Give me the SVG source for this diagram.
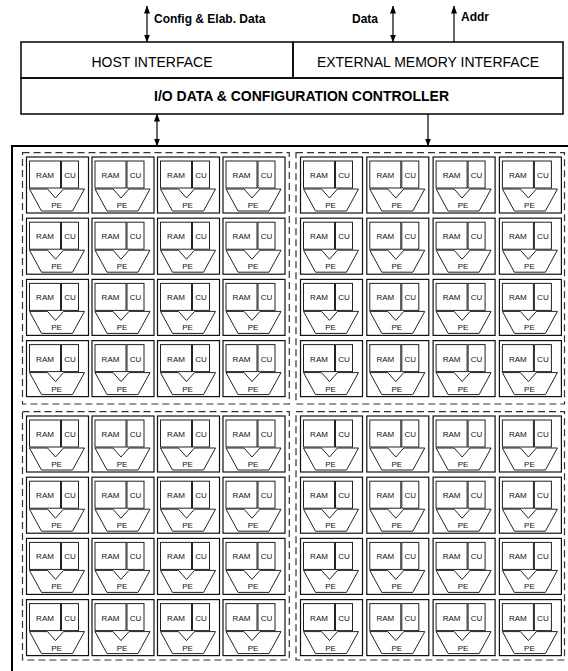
<svg xmlns="http://www.w3.org/2000/svg" width="568" height="671" viewBox="0 0 568 671">
<style>
.bg{fill:#fff}
.frame{fill:none;stroke:#000;stroke-width:1.5}
.outer{fill:none;stroke:#000;stroke-width:2}
.quad{fill:none;stroke:#333;stroke-width:1.2;stroke-dasharray:7 4}
.box{fill:#fff;stroke:#111;stroke-width:1.2}
.in{fill:#fff;stroke:#222;stroke-width:1}
.wire{fill:none;stroke:#000;stroke-width:1.2}
.cell text{font-family:"Liberation Sans",Arial,sans-serif;font-size:8px;text-anchor:middle;fill:#111}
.lbl{font-family:"Liberation Sans",Arial,sans-serif;font-size:12px;font-weight:bold;fill:#000}
.big{font-family:"Liberation Sans",Arial,sans-serif;font-size:14px;fill:#000}
.bigb{font-family:"Liberation Sans",Arial,sans-serif;font-size:14px;font-weight:bold;fill:#000}
</style>
<defs>
<marker id="ah" viewBox="0 0 8 6" refX="7.5" refY="3" markerWidth="8" markerHeight="6" markerUnits="userSpaceOnUse" orient="auto-start-reverse"><path d="M0,0L8,3L0,6Z" fill="#000"/></marker>
</defs>
<rect class="bg" x="0" y="0" width="568" height="671"/>
<g id="host-interface">
<rect class="frame" x="21" y="42" width="272" height="36" fill="#fff"/>
<text class="big" x="152" y="67" text-anchor="middle">HOST INTERFACE</text>
</g>
<g id="external-memory-interface">
<rect class="frame" x="293" y="42" width="270" height="36"/>
<text class="big" x="428" y="67" text-anchor="middle">EXTERNAL MEMORY INTERFACE</text>
</g>
<g id="io-controller">
<rect class="frame" x="21" y="78" width="542" height="36"/>
<text class="bigb" x="154" y="101">I/O DATA &amp; CONFIGURATION CONTROLLER</text>
</g>
<g id="connectors">
<line class="wire" x1="147" y1="6" x2="147" y2="42" marker-start="url(#ah)" marker-end="url(#ah)"/>
<line class="wire" x1="393" y1="6" x2="393" y2="42" marker-start="url(#ah)" marker-end="url(#ah)"/>
<line class="wire" x1="454" y1="42" x2="454" y2="6" marker-end="url(#ah)"/>
<line class="wire" x1="157" y1="114" x2="157" y2="146" marker-start="url(#ah)" marker-end="url(#ah)"/>
<line class="wire" x1="428" y1="114" x2="428" y2="146" marker-end="url(#ah)"/>
</g>
<g id="labels">
<text class="lbl" x="154" y="23">Config &amp; Elab. Data</text>
<text class="lbl" x="352" y="23">Data</text>
<text class="lbl" x="461" y="21">Addr</text>
</g>
<g id="array">
<rect class="outer" x="12" y="146" width="570" height="540"/>
<rect class="quad" x="22.5" y="152.7" width="266.8" height="251.3"/>
<rect class="quad" x="296" y="152.7" width="268.5" height="251.3"/>
<rect class="quad" x="22.5" y="411.7" width="266.8" height="248.3"/>
<rect class="quad" x="296" y="411.7" width="268.5" height="248.3"/>
</g>
<g id="pe-tl-1-1" class="cell" transform="translate(26.5,157)"><rect class="box" width="62" height="56"/><rect class="in" x="3" y="4" width="31" height="27"/><rect class="in" x="35" y="4" width="17" height="27"/><path class="in" d="M3,32H21L29,41L37,32H58L46,54H15Z"/><text x="18.5" y="21">RAM</text><text x="43.5" y="21">CU</text><text x="30" y="51">PE</text></g>
<g id="pe-tl-1-2" class="cell" transform="translate(92,157)"><rect class="box" width="62" height="56"/><rect class="in" x="3" y="4" width="31" height="27"/><rect class="in" x="35" y="4" width="17" height="27"/><path class="in" d="M3,32H21L29,41L37,32H58L46,54H15Z"/><text x="18.5" y="21">RAM</text><text x="43.5" y="21">CU</text><text x="30" y="51">PE</text></g>
<g id="pe-tl-1-3" class="cell" transform="translate(157.5,157)"><rect class="box" width="62" height="56"/><rect class="in" x="3" y="4" width="31" height="27"/><rect class="in" x="35" y="4" width="17" height="27"/><path class="in" d="M3,32H21L29,41L37,32H58L46,54H15Z"/><text x="18.5" y="21">RAM</text><text x="43.5" y="21">CU</text><text x="30" y="51">PE</text></g>
<g id="pe-tl-1-4" class="cell" transform="translate(223,157)"><rect class="box" width="62" height="56"/><rect class="in" x="3" y="4" width="31" height="27"/><rect class="in" x="35" y="4" width="17" height="27"/><path class="in" d="M3,32H21L29,41L37,32H58L46,54H15Z"/><text x="18.5" y="21">RAM</text><text x="43.5" y="21">CU</text><text x="30" y="51">PE</text></g>
<g id="pe-tl-2-1" class="cell" transform="translate(26.5,218.2)"><rect class="box" width="62" height="56"/><rect class="in" x="3" y="4" width="31" height="27"/><rect class="in" x="35" y="4" width="17" height="27"/><path class="in" d="M3,32H21L29,41L37,32H58L46,54H15Z"/><text x="18.5" y="21">RAM</text><text x="43.5" y="21">CU</text><text x="30" y="51">PE</text></g>
<g id="pe-tl-2-2" class="cell" transform="translate(92,218.2)"><rect class="box" width="62" height="56"/><rect class="in" x="3" y="4" width="31" height="27"/><rect class="in" x="35" y="4" width="17" height="27"/><path class="in" d="M3,32H21L29,41L37,32H58L46,54H15Z"/><text x="18.5" y="21">RAM</text><text x="43.5" y="21">CU</text><text x="30" y="51">PE</text></g>
<g id="pe-tl-2-3" class="cell" transform="translate(157.5,218.2)"><rect class="box" width="62" height="56"/><rect class="in" x="3" y="4" width="31" height="27"/><rect class="in" x="35" y="4" width="17" height="27"/><path class="in" d="M3,32H21L29,41L37,32H58L46,54H15Z"/><text x="18.5" y="21">RAM</text><text x="43.5" y="21">CU</text><text x="30" y="51">PE</text></g>
<g id="pe-tl-2-4" class="cell" transform="translate(223,218.2)"><rect class="box" width="62" height="56"/><rect class="in" x="3" y="4" width="31" height="27"/><rect class="in" x="35" y="4" width="17" height="27"/><path class="in" d="M3,32H21L29,41L37,32H58L46,54H15Z"/><text x="18.5" y="21">RAM</text><text x="43.5" y="21">CU</text><text x="30" y="51">PE</text></g>
<g id="pe-tl-3-1" class="cell" transform="translate(26.5,279.4)"><rect class="box" width="62" height="56"/><rect class="in" x="3" y="4" width="31" height="27"/><rect class="in" x="35" y="4" width="17" height="27"/><path class="in" d="M3,32H21L29,41L37,32H58L46,54H15Z"/><text x="18.5" y="21">RAM</text><text x="43.5" y="21">CU</text><text x="30" y="51">PE</text></g>
<g id="pe-tl-3-2" class="cell" transform="translate(92,279.4)"><rect class="box" width="62" height="56"/><rect class="in" x="3" y="4" width="31" height="27"/><rect class="in" x="35" y="4" width="17" height="27"/><path class="in" d="M3,32H21L29,41L37,32H58L46,54H15Z"/><text x="18.5" y="21">RAM</text><text x="43.5" y="21">CU</text><text x="30" y="51">PE</text></g>
<g id="pe-tl-3-3" class="cell" transform="translate(157.5,279.4)"><rect class="box" width="62" height="56"/><rect class="in" x="3" y="4" width="31" height="27"/><rect class="in" x="35" y="4" width="17" height="27"/><path class="in" d="M3,32H21L29,41L37,32H58L46,54H15Z"/><text x="18.5" y="21">RAM</text><text x="43.5" y="21">CU</text><text x="30" y="51">PE</text></g>
<g id="pe-tl-3-4" class="cell" transform="translate(223,279.4)"><rect class="box" width="62" height="56"/><rect class="in" x="3" y="4" width="31" height="27"/><rect class="in" x="35" y="4" width="17" height="27"/><path class="in" d="M3,32H21L29,41L37,32H58L46,54H15Z"/><text x="18.5" y="21">RAM</text><text x="43.5" y="21">CU</text><text x="30" y="51">PE</text></g>
<g id="pe-tl-4-1" class="cell" transform="translate(26.5,340.6)"><rect class="box" width="62" height="56"/><rect class="in" x="3" y="4" width="31" height="27"/><rect class="in" x="35" y="4" width="17" height="27"/><path class="in" d="M3,32H21L29,41L37,32H58L46,54H15Z"/><text x="18.5" y="21">RAM</text><text x="43.5" y="21">CU</text><text x="30" y="51">PE</text></g>
<g id="pe-tl-4-2" class="cell" transform="translate(92,340.6)"><rect class="box" width="62" height="56"/><rect class="in" x="3" y="4" width="31" height="27"/><rect class="in" x="35" y="4" width="17" height="27"/><path class="in" d="M3,32H21L29,41L37,32H58L46,54H15Z"/><text x="18.5" y="21">RAM</text><text x="43.5" y="21">CU</text><text x="30" y="51">PE</text></g>
<g id="pe-tl-4-3" class="cell" transform="translate(157.5,340.6)"><rect class="box" width="62" height="56"/><rect class="in" x="3" y="4" width="31" height="27"/><rect class="in" x="35" y="4" width="17" height="27"/><path class="in" d="M3,32H21L29,41L37,32H58L46,54H15Z"/><text x="18.5" y="21">RAM</text><text x="43.5" y="21">CU</text><text x="30" y="51">PE</text></g>
<g id="pe-tl-4-4" class="cell" transform="translate(223,340.6)"><rect class="box" width="62" height="56"/><rect class="in" x="3" y="4" width="31" height="27"/><rect class="in" x="35" y="4" width="17" height="27"/><path class="in" d="M3,32H21L29,41L37,32H58L46,54H15Z"/><text x="18.5" y="21">RAM</text><text x="43.5" y="21">CU</text><text x="30" y="51">PE</text></g>
<g id="pe-tr-1-1" class="cell" transform="translate(300.5,157)"><rect class="box" width="62" height="56"/><rect class="in" x="3" y="4" width="31" height="27"/><rect class="in" x="35" y="4" width="17" height="27"/><path class="in" d="M3,32H21L29,41L37,32H58L46,54H15Z"/><text x="18.5" y="21">RAM</text><text x="43.5" y="21">CU</text><text x="30" y="51">PE</text></g>
<g id="pe-tr-1-2" class="cell" transform="translate(366.8,157)"><rect class="box" width="62" height="56"/><rect class="in" x="3" y="4" width="31" height="27"/><rect class="in" x="35" y="4" width="17" height="27"/><path class="in" d="M3,32H21L29,41L37,32H58L46,54H15Z"/><text x="18.5" y="21">RAM</text><text x="43.5" y="21">CU</text><text x="30" y="51">PE</text></g>
<g id="pe-tr-1-3" class="cell" transform="translate(433.1,157)"><rect class="box" width="62" height="56"/><rect class="in" x="3" y="4" width="31" height="27"/><rect class="in" x="35" y="4" width="17" height="27"/><path class="in" d="M3,32H21L29,41L37,32H58L46,54H15Z"/><text x="18.5" y="21">RAM</text><text x="43.5" y="21">CU</text><text x="30" y="51">PE</text></g>
<g id="pe-tr-1-4" class="cell" transform="translate(499.4,157)"><rect class="box" width="62" height="56"/><rect class="in" x="3" y="4" width="31" height="27"/><rect class="in" x="35" y="4" width="17" height="27"/><path class="in" d="M3,32H21L29,41L37,32H58L46,54H15Z"/><text x="18.5" y="21">RAM</text><text x="43.5" y="21">CU</text><text x="30" y="51">PE</text></g>
<g id="pe-tr-2-1" class="cell" transform="translate(300.5,218.2)"><rect class="box" width="62" height="56"/><rect class="in" x="3" y="4" width="31" height="27"/><rect class="in" x="35" y="4" width="17" height="27"/><path class="in" d="M3,32H21L29,41L37,32H58L46,54H15Z"/><text x="18.5" y="21">RAM</text><text x="43.5" y="21">CU</text><text x="30" y="51">PE</text></g>
<g id="pe-tr-2-2" class="cell" transform="translate(366.8,218.2)"><rect class="box" width="62" height="56"/><rect class="in" x="3" y="4" width="31" height="27"/><rect class="in" x="35" y="4" width="17" height="27"/><path class="in" d="M3,32H21L29,41L37,32H58L46,54H15Z"/><text x="18.5" y="21">RAM</text><text x="43.5" y="21">CU</text><text x="30" y="51">PE</text></g>
<g id="pe-tr-2-3" class="cell" transform="translate(433.1,218.2)"><rect class="box" width="62" height="56"/><rect class="in" x="3" y="4" width="31" height="27"/><rect class="in" x="35" y="4" width="17" height="27"/><path class="in" d="M3,32H21L29,41L37,32H58L46,54H15Z"/><text x="18.5" y="21">RAM</text><text x="43.5" y="21">CU</text><text x="30" y="51">PE</text></g>
<g id="pe-tr-2-4" class="cell" transform="translate(499.4,218.2)"><rect class="box" width="62" height="56"/><rect class="in" x="3" y="4" width="31" height="27"/><rect class="in" x="35" y="4" width="17" height="27"/><path class="in" d="M3,32H21L29,41L37,32H58L46,54H15Z"/><text x="18.5" y="21">RAM</text><text x="43.5" y="21">CU</text><text x="30" y="51">PE</text></g>
<g id="pe-tr-3-1" class="cell" transform="translate(300.5,279.4)"><rect class="box" width="62" height="56"/><rect class="in" x="3" y="4" width="31" height="27"/><rect class="in" x="35" y="4" width="17" height="27"/><path class="in" d="M3,32H21L29,41L37,32H58L46,54H15Z"/><text x="18.5" y="21">RAM</text><text x="43.5" y="21">CU</text><text x="30" y="51">PE</text></g>
<g id="pe-tr-3-2" class="cell" transform="translate(366.8,279.4)"><rect class="box" width="62" height="56"/><rect class="in" x="3" y="4" width="31" height="27"/><rect class="in" x="35" y="4" width="17" height="27"/><path class="in" d="M3,32H21L29,41L37,32H58L46,54H15Z"/><text x="18.5" y="21">RAM</text><text x="43.5" y="21">CU</text><text x="30" y="51">PE</text></g>
<g id="pe-tr-3-3" class="cell" transform="translate(433.1,279.4)"><rect class="box" width="62" height="56"/><rect class="in" x="3" y="4" width="31" height="27"/><rect class="in" x="35" y="4" width="17" height="27"/><path class="in" d="M3,32H21L29,41L37,32H58L46,54H15Z"/><text x="18.5" y="21">RAM</text><text x="43.5" y="21">CU</text><text x="30" y="51">PE</text></g>
<g id="pe-tr-3-4" class="cell" transform="translate(499.4,279.4)"><rect class="box" width="62" height="56"/><rect class="in" x="3" y="4" width="31" height="27"/><rect class="in" x="35" y="4" width="17" height="27"/><path class="in" d="M3,32H21L29,41L37,32H58L46,54H15Z"/><text x="18.5" y="21">RAM</text><text x="43.5" y="21">CU</text><text x="30" y="51">PE</text></g>
<g id="pe-tr-4-1" class="cell" transform="translate(300.5,340.6)"><rect class="box" width="62" height="56"/><rect class="in" x="3" y="4" width="31" height="27"/><rect class="in" x="35" y="4" width="17" height="27"/><path class="in" d="M3,32H21L29,41L37,32H58L46,54H15Z"/><text x="18.5" y="21">RAM</text><text x="43.5" y="21">CU</text><text x="30" y="51">PE</text></g>
<g id="pe-tr-4-2" class="cell" transform="translate(366.8,340.6)"><rect class="box" width="62" height="56"/><rect class="in" x="3" y="4" width="31" height="27"/><rect class="in" x="35" y="4" width="17" height="27"/><path class="in" d="M3,32H21L29,41L37,32H58L46,54H15Z"/><text x="18.5" y="21">RAM</text><text x="43.5" y="21">CU</text><text x="30" y="51">PE</text></g>
<g id="pe-tr-4-3" class="cell" transform="translate(433.1,340.6)"><rect class="box" width="62" height="56"/><rect class="in" x="3" y="4" width="31" height="27"/><rect class="in" x="35" y="4" width="17" height="27"/><path class="in" d="M3,32H21L29,41L37,32H58L46,54H15Z"/><text x="18.5" y="21">RAM</text><text x="43.5" y="21">CU</text><text x="30" y="51">PE</text></g>
<g id="pe-tr-4-4" class="cell" transform="translate(499.4,340.6)"><rect class="box" width="62" height="56"/><rect class="in" x="3" y="4" width="31" height="27"/><rect class="in" x="35" y="4" width="17" height="27"/><path class="in" d="M3,32H21L29,41L37,32H58L46,54H15Z"/><text x="18.5" y="21">RAM</text><text x="43.5" y="21">CU</text><text x="30" y="51">PE</text></g>
<g id="pe-bl-1-1" class="cell" transform="translate(26.5,416)"><rect class="box" width="62" height="56"/><rect class="in" x="3" y="4" width="31" height="27"/><rect class="in" x="35" y="4" width="17" height="27"/><path class="in" d="M3,32H21L29,41L37,32H58L46,54H15Z"/><text x="18.5" y="21">RAM</text><text x="43.5" y="21">CU</text><text x="30" y="51">PE</text></g>
<g id="pe-bl-1-2" class="cell" transform="translate(92,416)"><rect class="box" width="62" height="56"/><rect class="in" x="3" y="4" width="31" height="27"/><rect class="in" x="35" y="4" width="17" height="27"/><path class="in" d="M3,32H21L29,41L37,32H58L46,54H15Z"/><text x="18.5" y="21">RAM</text><text x="43.5" y="21">CU</text><text x="30" y="51">PE</text></g>
<g id="pe-bl-1-3" class="cell" transform="translate(157.5,416)"><rect class="box" width="62" height="56"/><rect class="in" x="3" y="4" width="31" height="27"/><rect class="in" x="35" y="4" width="17" height="27"/><path class="in" d="M3,32H21L29,41L37,32H58L46,54H15Z"/><text x="18.5" y="21">RAM</text><text x="43.5" y="21">CU</text><text x="30" y="51">PE</text></g>
<g id="pe-bl-1-4" class="cell" transform="translate(223,416)"><rect class="box" width="62" height="56"/><rect class="in" x="3" y="4" width="31" height="27"/><rect class="in" x="35" y="4" width="17" height="27"/><path class="in" d="M3,32H21L29,41L37,32H58L46,54H15Z"/><text x="18.5" y="21">RAM</text><text x="43.5" y="21">CU</text><text x="30" y="51">PE</text></g>
<g id="pe-bl-2-1" class="cell" transform="translate(26.5,477.2)"><rect class="box" width="62" height="56"/><rect class="in" x="3" y="4" width="31" height="27"/><rect class="in" x="35" y="4" width="17" height="27"/><path class="in" d="M3,32H21L29,41L37,32H58L46,54H15Z"/><text x="18.5" y="21">RAM</text><text x="43.5" y="21">CU</text><text x="30" y="51">PE</text></g>
<g id="pe-bl-2-2" class="cell" transform="translate(92,477.2)"><rect class="box" width="62" height="56"/><rect class="in" x="3" y="4" width="31" height="27"/><rect class="in" x="35" y="4" width="17" height="27"/><path class="in" d="M3,32H21L29,41L37,32H58L46,54H15Z"/><text x="18.5" y="21">RAM</text><text x="43.5" y="21">CU</text><text x="30" y="51">PE</text></g>
<g id="pe-bl-2-3" class="cell" transform="translate(157.5,477.2)"><rect class="box" width="62" height="56"/><rect class="in" x="3" y="4" width="31" height="27"/><rect class="in" x="35" y="4" width="17" height="27"/><path class="in" d="M3,32H21L29,41L37,32H58L46,54H15Z"/><text x="18.5" y="21">RAM</text><text x="43.5" y="21">CU</text><text x="30" y="51">PE</text></g>
<g id="pe-bl-2-4" class="cell" transform="translate(223,477.2)"><rect class="box" width="62" height="56"/><rect class="in" x="3" y="4" width="31" height="27"/><rect class="in" x="35" y="4" width="17" height="27"/><path class="in" d="M3,32H21L29,41L37,32H58L46,54H15Z"/><text x="18.5" y="21">RAM</text><text x="43.5" y="21">CU</text><text x="30" y="51">PE</text></g>
<g id="pe-bl-3-1" class="cell" transform="translate(26.5,538.4)"><rect class="box" width="62" height="56"/><rect class="in" x="3" y="4" width="31" height="27"/><rect class="in" x="35" y="4" width="17" height="27"/><path class="in" d="M3,32H21L29,41L37,32H58L46,54H15Z"/><text x="18.5" y="21">RAM</text><text x="43.5" y="21">CU</text><text x="30" y="51">PE</text></g>
<g id="pe-bl-3-2" class="cell" transform="translate(92,538.4)"><rect class="box" width="62" height="56"/><rect class="in" x="3" y="4" width="31" height="27"/><rect class="in" x="35" y="4" width="17" height="27"/><path class="in" d="M3,32H21L29,41L37,32H58L46,54H15Z"/><text x="18.5" y="21">RAM</text><text x="43.5" y="21">CU</text><text x="30" y="51">PE</text></g>
<g id="pe-bl-3-3" class="cell" transform="translate(157.5,538.4)"><rect class="box" width="62" height="56"/><rect class="in" x="3" y="4" width="31" height="27"/><rect class="in" x="35" y="4" width="17" height="27"/><path class="in" d="M3,32H21L29,41L37,32H58L46,54H15Z"/><text x="18.5" y="21">RAM</text><text x="43.5" y="21">CU</text><text x="30" y="51">PE</text></g>
<g id="pe-bl-3-4" class="cell" transform="translate(223,538.4)"><rect class="box" width="62" height="56"/><rect class="in" x="3" y="4" width="31" height="27"/><rect class="in" x="35" y="4" width="17" height="27"/><path class="in" d="M3,32H21L29,41L37,32H58L46,54H15Z"/><text x="18.5" y="21">RAM</text><text x="43.5" y="21">CU</text><text x="30" y="51">PE</text></g>
<g id="pe-bl-4-1" class="cell" transform="translate(26.5,599.6)"><rect class="box" width="62" height="56"/><rect class="in" x="3" y="4" width="31" height="27"/><rect class="in" x="35" y="4" width="17" height="27"/><path class="in" d="M3,32H21L29,41L37,32H58L46,54H15Z"/><text x="18.5" y="21">RAM</text><text x="43.5" y="21">CU</text><text x="30" y="51">PE</text></g>
<g id="pe-bl-4-2" class="cell" transform="translate(92,599.6)"><rect class="box" width="62" height="56"/><rect class="in" x="3" y="4" width="31" height="27"/><rect class="in" x="35" y="4" width="17" height="27"/><path class="in" d="M3,32H21L29,41L37,32H58L46,54H15Z"/><text x="18.5" y="21">RAM</text><text x="43.5" y="21">CU</text><text x="30" y="51">PE</text></g>
<g id="pe-bl-4-3" class="cell" transform="translate(157.5,599.6)"><rect class="box" width="62" height="56"/><rect class="in" x="3" y="4" width="31" height="27"/><rect class="in" x="35" y="4" width="17" height="27"/><path class="in" d="M3,32H21L29,41L37,32H58L46,54H15Z"/><text x="18.5" y="21">RAM</text><text x="43.5" y="21">CU</text><text x="30" y="51">PE</text></g>
<g id="pe-bl-4-4" class="cell" transform="translate(223,599.6)"><rect class="box" width="62" height="56"/><rect class="in" x="3" y="4" width="31" height="27"/><rect class="in" x="35" y="4" width="17" height="27"/><path class="in" d="M3,32H21L29,41L37,32H58L46,54H15Z"/><text x="18.5" y="21">RAM</text><text x="43.5" y="21">CU</text><text x="30" y="51">PE</text></g>
<g id="pe-br-1-1" class="cell" transform="translate(300.5,416)"><rect class="box" width="62" height="56"/><rect class="in" x="3" y="4" width="31" height="27"/><rect class="in" x="35" y="4" width="17" height="27"/><path class="in" d="M3,32H21L29,41L37,32H58L46,54H15Z"/><text x="18.5" y="21">RAM</text><text x="43.5" y="21">CU</text><text x="30" y="51">PE</text></g>
<g id="pe-br-1-2" class="cell" transform="translate(366.8,416)"><rect class="box" width="62" height="56"/><rect class="in" x="3" y="4" width="31" height="27"/><rect class="in" x="35" y="4" width="17" height="27"/><path class="in" d="M3,32H21L29,41L37,32H58L46,54H15Z"/><text x="18.5" y="21">RAM</text><text x="43.5" y="21">CU</text><text x="30" y="51">PE</text></g>
<g id="pe-br-1-3" class="cell" transform="translate(433.1,416)"><rect class="box" width="62" height="56"/><rect class="in" x="3" y="4" width="31" height="27"/><rect class="in" x="35" y="4" width="17" height="27"/><path class="in" d="M3,32H21L29,41L37,32H58L46,54H15Z"/><text x="18.5" y="21">RAM</text><text x="43.5" y="21">CU</text><text x="30" y="51">PE</text></g>
<g id="pe-br-1-4" class="cell" transform="translate(499.4,416)"><rect class="box" width="62" height="56"/><rect class="in" x="3" y="4" width="31" height="27"/><rect class="in" x="35" y="4" width="17" height="27"/><path class="in" d="M3,32H21L29,41L37,32H58L46,54H15Z"/><text x="18.5" y="21">RAM</text><text x="43.5" y="21">CU</text><text x="30" y="51">PE</text></g>
<g id="pe-br-2-1" class="cell" transform="translate(300.5,477.2)"><rect class="box" width="62" height="56"/><rect class="in" x="3" y="4" width="31" height="27"/><rect class="in" x="35" y="4" width="17" height="27"/><path class="in" d="M3,32H21L29,41L37,32H58L46,54H15Z"/><text x="18.5" y="21">RAM</text><text x="43.5" y="21">CU</text><text x="30" y="51">PE</text></g>
<g id="pe-br-2-2" class="cell" transform="translate(366.8,477.2)"><rect class="box" width="62" height="56"/><rect class="in" x="3" y="4" width="31" height="27"/><rect class="in" x="35" y="4" width="17" height="27"/><path class="in" d="M3,32H21L29,41L37,32H58L46,54H15Z"/><text x="18.5" y="21">RAM</text><text x="43.5" y="21">CU</text><text x="30" y="51">PE</text></g>
<g id="pe-br-2-3" class="cell" transform="translate(433.1,477.2)"><rect class="box" width="62" height="56"/><rect class="in" x="3" y="4" width="31" height="27"/><rect class="in" x="35" y="4" width="17" height="27"/><path class="in" d="M3,32H21L29,41L37,32H58L46,54H15Z"/><text x="18.5" y="21">RAM</text><text x="43.5" y="21">CU</text><text x="30" y="51">PE</text></g>
<g id="pe-br-2-4" class="cell" transform="translate(499.4,477.2)"><rect class="box" width="62" height="56"/><rect class="in" x="3" y="4" width="31" height="27"/><rect class="in" x="35" y="4" width="17" height="27"/><path class="in" d="M3,32H21L29,41L37,32H58L46,54H15Z"/><text x="18.5" y="21">RAM</text><text x="43.5" y="21">CU</text><text x="30" y="51">PE</text></g>
<g id="pe-br-3-1" class="cell" transform="translate(300.5,538.4)"><rect class="box" width="62" height="56"/><rect class="in" x="3" y="4" width="31" height="27"/><rect class="in" x="35" y="4" width="17" height="27"/><path class="in" d="M3,32H21L29,41L37,32H58L46,54H15Z"/><text x="18.5" y="21">RAM</text><text x="43.5" y="21">CU</text><text x="30" y="51">PE</text></g>
<g id="pe-br-3-2" class="cell" transform="translate(366.8,538.4)"><rect class="box" width="62" height="56"/><rect class="in" x="3" y="4" width="31" height="27"/><rect class="in" x="35" y="4" width="17" height="27"/><path class="in" d="M3,32H21L29,41L37,32H58L46,54H15Z"/><text x="18.5" y="21">RAM</text><text x="43.5" y="21">CU</text><text x="30" y="51">PE</text></g>
<g id="pe-br-3-3" class="cell" transform="translate(433.1,538.4)"><rect class="box" width="62" height="56"/><rect class="in" x="3" y="4" width="31" height="27"/><rect class="in" x="35" y="4" width="17" height="27"/><path class="in" d="M3,32H21L29,41L37,32H58L46,54H15Z"/><text x="18.5" y="21">RAM</text><text x="43.5" y="21">CU</text><text x="30" y="51">PE</text></g>
<g id="pe-br-3-4" class="cell" transform="translate(499.4,538.4)"><rect class="box" width="62" height="56"/><rect class="in" x="3" y="4" width="31" height="27"/><rect class="in" x="35" y="4" width="17" height="27"/><path class="in" d="M3,32H21L29,41L37,32H58L46,54H15Z"/><text x="18.5" y="21">RAM</text><text x="43.5" y="21">CU</text><text x="30" y="51">PE</text></g>
<g id="pe-br-4-1" class="cell" transform="translate(300.5,599.6)"><rect class="box" width="62" height="56"/><rect class="in" x="3" y="4" width="31" height="27"/><rect class="in" x="35" y="4" width="17" height="27"/><path class="in" d="M3,32H21L29,41L37,32H58L46,54H15Z"/><text x="18.5" y="21">RAM</text><text x="43.5" y="21">CU</text><text x="30" y="51">PE</text></g>
<g id="pe-br-4-2" class="cell" transform="translate(366.8,599.6)"><rect class="box" width="62" height="56"/><rect class="in" x="3" y="4" width="31" height="27"/><rect class="in" x="35" y="4" width="17" height="27"/><path class="in" d="M3,32H21L29,41L37,32H58L46,54H15Z"/><text x="18.5" y="21">RAM</text><text x="43.5" y="21">CU</text><text x="30" y="51">PE</text></g>
<g id="pe-br-4-3" class="cell" transform="translate(433.1,599.6)"><rect class="box" width="62" height="56"/><rect class="in" x="3" y="4" width="31" height="27"/><rect class="in" x="35" y="4" width="17" height="27"/><path class="in" d="M3,32H21L29,41L37,32H58L46,54H15Z"/><text x="18.5" y="21">RAM</text><text x="43.5" y="21">CU</text><text x="30" y="51">PE</text></g>
<g id="pe-br-4-4" class="cell" transform="translate(499.4,599.6)"><rect class="box" width="62" height="56"/><rect class="in" x="3" y="4" width="31" height="27"/><rect class="in" x="35" y="4" width="17" height="27"/><path class="in" d="M3,32H21L29,41L37,32H58L46,54H15Z"/><text x="18.5" y="21">RAM</text><text x="43.5" y="21">CU</text><text x="30" y="51">PE</text></g>
</svg>
